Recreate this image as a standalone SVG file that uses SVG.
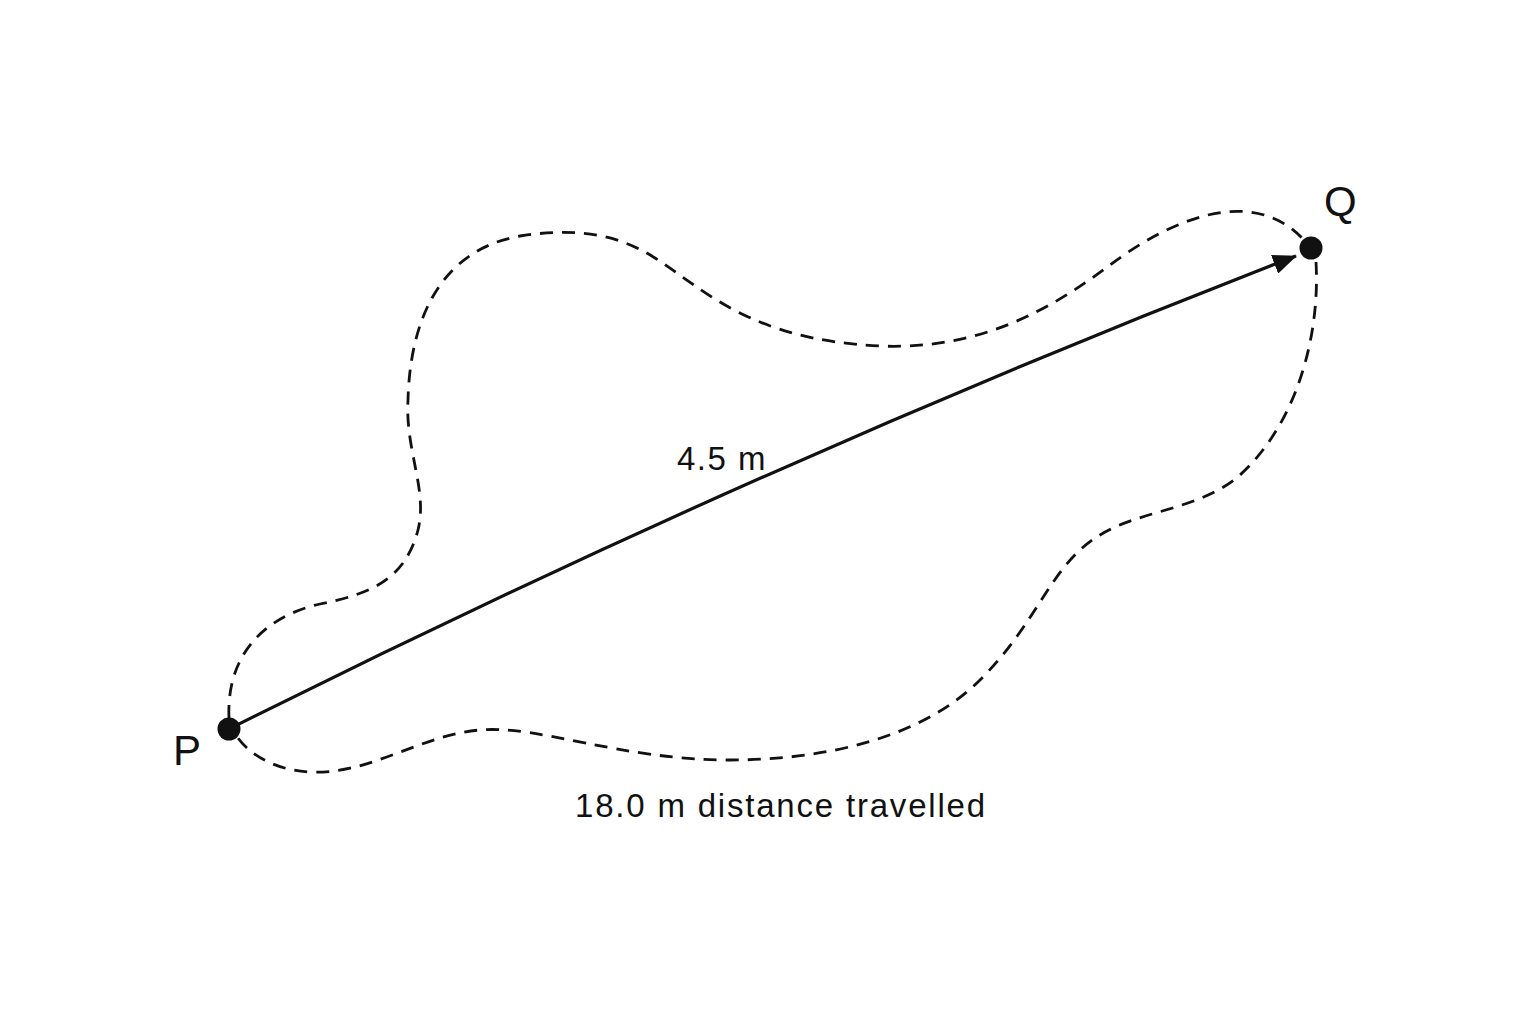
<svg xmlns="http://www.w3.org/2000/svg" width="1536" height="1024" viewBox="0 0 1536 1024">
<style>
.lbl{font-family:"Liberation Sans",Arial,sans-serif;fill:#111;}
.path{fill:none;stroke:#111;stroke-width:2.8;stroke-dasharray:13 9;}
.disp{fill:none;stroke:#111;stroke-width:3.2;}
.pt{fill:#111;}
</style>
<defs>
<marker id="arrh" viewBox="0 0 24 20" refX="23" refY="10" markerWidth="24" markerHeight="20" markerUnits="userSpaceOnUse" orient="auto">
<path d="M0,0 L24,10 L0,20 z" fill="#111"/>
</marker>
</defs>
<rect width="1536" height="1024" fill="#fff"/>
<g id="connectors">
<path class="path" d="M229,718 C226,650 270,615 320,604 C370,594 405,580 418,530 C428,490 405,450 408,400 C410,320 440,250 520,236 C565,229 612,230 655,258 C705,290 750,340 880,346 C980,350 1050,310 1110,265 C1170,220 1250,185 1302,238"/>
<path class="path" d="M1316,262 C1320,330 1300,420 1240,475 C1200,510 1140,510 1100,535 C1050,565 1040,620 980,680 C920,740 820,760 730,760 C620,760 540,725 480,730 C420,735 370,775 310,772 C270,770 245,750 236,735"/>
<path class="disp" d="M229,729 Q760,463 1296,256" marker-end="url(#arrh)"/>
</g>
<g id="P">
<circle class="pt" cx="229" cy="729" r="11.5"/>
<text class="lbl" x="173" y="765" font-size="42">P</text>
</g>
<g id="Q">
<circle class="pt" cx="1311" cy="248" r="11.5"/>
<text class="lbl" x="1324" y="216" font-size="42">Q</text>
</g>
<g id="labels">
<text class="lbl" x="677" y="470" font-size="33" letter-spacing="1.5">4.5 m</text>
<text class="lbl" x="575" y="817" font-size="33" letter-spacing="1.8">18.0 m distance travelled</text>
</g>
</svg>
